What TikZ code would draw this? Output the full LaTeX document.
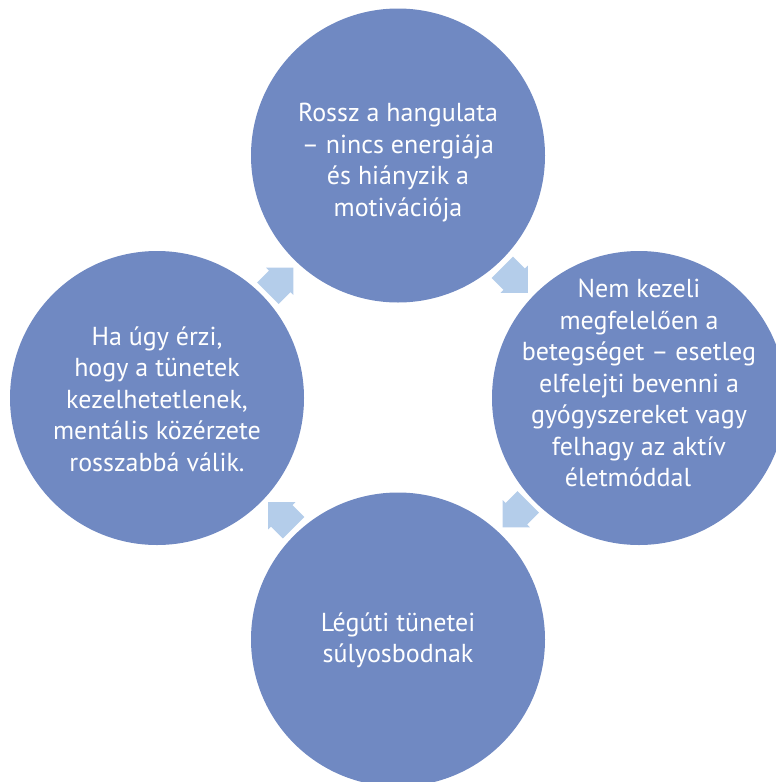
\documentclass[tikz,border=0pt]{standalone}
\usepackage{fontspec}
\setmainfont{PT Sans}
\usetikzlibrary{shapes.arrows}
\definecolor{bubbleblue}{RGB}{112,137,194}
\definecolor{arrowblue}{RGB}{180,205,234}
\tikzset{
    x=1pt, y=-1pt, % one unit is one pixel of the reference, y runs downwards
    bubble/.style={circle, fill=bubbleblue, minimum size=294pt, inner sep=0pt}, % the four big circles
    bubble text/.style={text=white, align=center, font=\fontsize{26}{31.5}\selectfont}, % white text on the circles
    cycle arrow/.style={single arrow, fill=arrowblue, inner xsep=0pt, inner ysep=15pt, minimum height=36pt, single arrow head extend=4pt, anchor=tip}, % block arrows between the circles
}

\begin{document}
\begin{tikzpicture}
    \useasboundingbox (0,0) rectangle (776,782);
    \clip (0,0) rectangle (776,782);
    \node[bubble] (mood) at (398,155.5) {};
    \node[bubble] (neglect) at (639,398) {};
    \node[bubble] (symptoms) at (398,639.5) {};
    \node[bubble] (despair) at (157,398) {};
    \node[bubble text] (mood text) at ([yshift=-7pt]mood.center) {Rossz a hangulata\\– nincs energiája\\és hiányzik a\\motivációja};
    \node[bubble text] (neglect text) at ([yshift=15pt]neglect.center) {Nem kezeli\\megfelelően a\\betegséget – esetleg\\elfelejti bevenni a\\gyógyszereket vagy\\felhagy az aktív\\életmóddal\rule{22pt}{0pt}};
    \node[bubble text] (symptoms text) at ([yshift=-1pt]symptoms.center) {Légúti tünetei\\súlyosbodnak};
    \node[bubble text] (despair text) at ([yshift=-1pt]despair.center) {Ha úgy érzi,\\hogy a tünetek\\kezelhetetlenek,\\mentális közérzete\\rosszabbá válik.};
    % arrows, clockwise
    \node[cycle arrow, rotate=-45] (mood to neglect) at (528,293) {};
    \node[cycle arrow, rotate=-135] (neglect to symptoms) at (502.5,527.5) {};
    \node[cycle arrow, rotate=135] (symptoms to despair) at (268,502) {};
    \node[cycle arrow, rotate=45] (despair to mood) at (293.5,267.5) {};
\end{tikzpicture}
\end{document}
